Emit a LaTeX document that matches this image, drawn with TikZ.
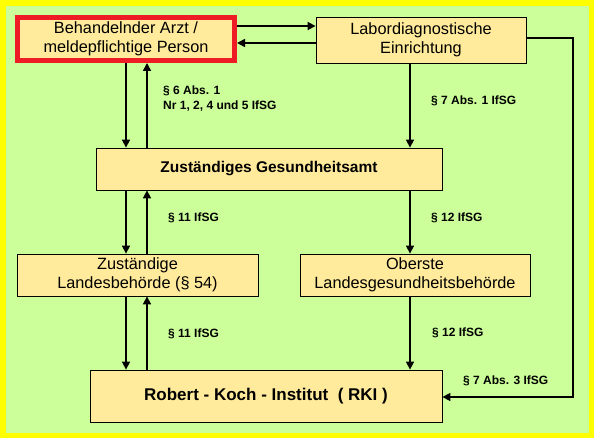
\documentclass[tikz,border=0pt]{standalone}
\usepackage{fontspec}
\setmainfont{Liberation Sans}
\usetikzlibrary{arrows.meta}
\definecolor{bgyellow}{RGB}{255,255,0}
\definecolor{bggreen}{RGB}{204,255,153}
\definecolor{boxfill}{RGB}{255,235,155}
\definecolor{redframe}{RGB}{238,28,37}
\begin{document}
\begin{tikzpicture}[x=1pt,y=-1pt,
  box/.style={draw=black, line width=0.8pt, fill=boxfill, inner sep=0pt, align=center,
    font=\fontsize{16.3}{19.5}\selectfont},
  boldbox/.style={box, font=\fontsize{15.5}{19}\selectfont\bfseries},
  lbl/.style={anchor=west, inner sep=0pt, align=left, font=\fontsize{12}{15}\selectfont\bfseries},
  arr/.style={line width=1.6pt, -{Triangle[width=8pt,length=8pt]}}]
\fill[bgyellow] (0,0) rectangle (594,438);
\fill[bggreen] (6,6) rectangle (589,433);
\useasboundingbox (0,0) rectangle (594,438);

\node[box, draw=redframe, line width=5pt, minimum width=217pt, minimum height=43pt] (arzt) at (126,39) {Behandelnder Arzt /\\meldepflichtige Person};
\node[box, minimum width=210pt, minimum height=46pt] (labor) at (421,40) {Labordiagnostische\\Einrichtung};
\node[boldbox, minimum width=346pt, minimum height=42pt] (ga) at (269,169) {Zuständiges Gesundheitsamt};
\node[box, minimum width=241pt, minimum height=42pt] (lb) at (137.5,275) {Zuständige\\Landesbehörde (§ 54)};
\node[box, minimum width=230pt, minimum height=42pt] (olb) at (415,275) {Oberste\\Landesgesundheitsbehörde};
\node[boldbox, font=\fontsize{17}{20}\selectfont\bfseries, minimum width=352pt, minimum height=52pt] (rki) at (266,396) {Robert - Koch - Institut\ \ ( RKI )};

\coordinate (xa) at (126,0);
\coordinate (xb) at (147,0);
\coordinate (xc) at (410,0);
\coordinate (xr) at (573,0);
\coordinate (ya) at (0,26);
\coordinate (yb) at (0,43);
\coordinate (yc) at (0,38);
\coordinate (yr) at (0,397);

\draw[arr] (arzt.east |- ya) -- (labor.west |- ya);
\draw[arr] (labor.west |- yb) -- (arzt.east |- yb);
\draw[arr] (arzt.south -| xa) -- (ga.north -| xa);
\draw[arr] (ga.north -| xb) -- (arzt.south -| xb);
\draw[arr] (labor.south -| xc) -- (ga.north -| xc);
\draw[arr] (ga.south -| xa) -- (lb.north -| xa);
\draw[arr] (lb.north -| xb) -- (ga.south -| xb);
\draw[arr] (ga.south -| xc) -- (olb.north -| xc);
\draw[arr] (lb.south -| xa) -- (rki.north -| xa);
\draw[arr] (rki.north -| xb) -- (lb.south -| xb);
\draw[arr] (olb.south -| xc) -- (rki.north -| xc);
\draw[arr] (labor.east |- yc) -| (xr |- yr) -- (rki.east |- yr);

\node[lbl] (l1) at (163,98.5) {§ 6 Abs. 1\\Nr 1, 2, 4 und 5 IfSG};
\node[lbl] (l2) at (431,101) {§ 7 Abs. 1 IfSG};
\node[lbl] (l3) at (168,218) {§ 11 IfSG};
\node[lbl] (l4) at (431,218) {§ 12 IfSG};
\node[lbl] (l5) at (168,334) {§ 11 IfSG};
\node[lbl] (l6) at (432,333) {§ 12 IfSG};
\node[lbl] (l7) at (463,381) {§ 7 Abs. 3 IfSG};
\end{tikzpicture}
\end{document}
